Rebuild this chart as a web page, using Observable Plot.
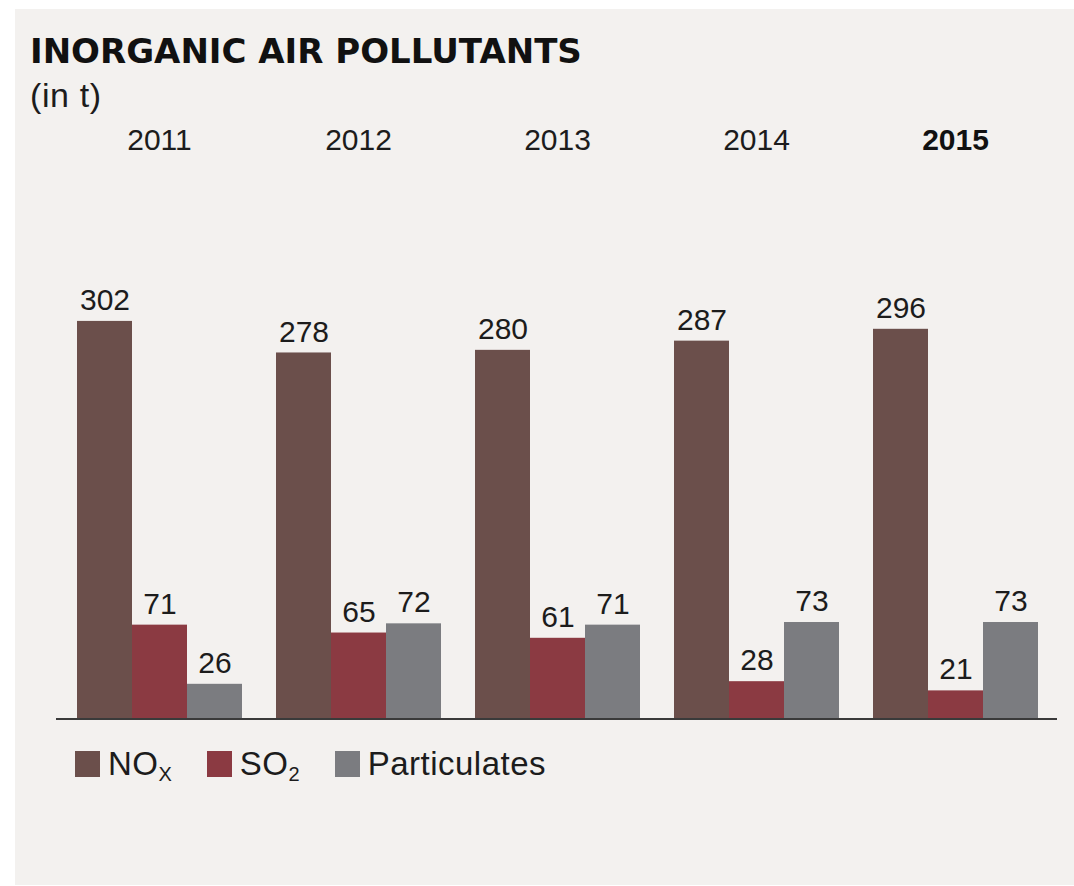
<!DOCTYPE html>
<html>
<head>
<meta charset="utf-8">
<script src="https://cdn.jsdelivr.net/npm/d3@7"></script>
<script src="https://cdn.jsdelivr.net/npm/@observablehq/plot@0.6"></script>
<style>
  html, body { margin: 0; padding: 0; background: #ffffff; }
  body { width: 1074px; height: 886px; position: relative; overflow: hidden; font-family: "Liberation Sans", Arial, sans-serif; color: #1c1c1c; }
  #panel { position: absolute; left: 15px; top: 9px; width: 1059px; height: 876px; background: #f3f1ef; }
  #title { position: absolute; left: 30px; top: 34px; font-family: "DejaVu Sans", sans-serif; font-size: 34px; line-height: 34px; font-weight: bold; letter-spacing: 0px; color: #111; white-space: nowrap; }
  #subtitle { position: absolute; left: 30px; top: 78px; font-size: 34px; line-height: 34px; letter-spacing: 0.6px; color: #1c1c1c; white-space: nowrap; }
  #chart { position: absolute; left: 0; top: 110px; }
  #legend { position: absolute; left: 75px; top: 745px; height: 38px; display: flex; align-items: center; gap: 35px; font-size: 33px; letter-spacing: 0.5px; color: #1c1c1c; }
  .item { display: flex; align-items: center; gap: 8px; white-space: nowrap; }
  .sw { width: 25px; height: 26px; display: inline-block; }
  sub { font-size: 20px; vertical-align: -6px; line-height: 0; letter-spacing: 0; }
</style>
</head>
<body>
<div id="panel"></div>
<div id="title">INORGANIC AIR POLLUTANTS</div>
<div id="subtitle">(in t)</div>
<div id="chart"></div>
<div id="legend"></div>
<script>
const years = ["2011", "2012", "2013", "2014", "2015"];
const series = ["NOx", "SO2", "Particulates"];
const nox = [302, 278, 280, 287, 296];
const so2 = [71, 65, 61, 28, 21];
const particulates = [26, 72, 71, 73, 73];
const highlightYear = "2015";
const colors = ["#6b4f4b", "#8b3a42", "#7b7c80"];
const legendLabels = ["NO<sub>X</sub>", "SO<sub>2</sub>", "Particulates"];

const rows = [];
years.forEach((y, i) => {
  rows.push({year: y, series: "NOx", value: nox[i]});
  rows.push({year: y, series: "SO2", value: so2[i]});
  rows.push({year: y, series: "Particulates", value: particulates[i]});
});

const chart = Plot.plot({
  width: 1074,
  height: 640,
  marginLeft: 75,
  marginRight: 35,
  marginTop: 15,
  marginBottom: 32,
  style: {background: "transparent", fontFamily: "'Liberation Sans', Arial, sans-serif", color: "#1c1c1c"},
  fx: {domain: years, paddingInner: 0.168, paddingOuter: 0, axis: null},
  x: {domain: series, padding: 0, axis: null},
  y: {domain: [0, 451], axis: null},
  color: {domain: series, range: colors},
  marks: [
    Plot.barY(rows, {fx: "year", x: "series", y: "value", fill: "series"}),
    Plot.ruleY([0], {stroke: "#3a3a3a", strokeWidth: 2, insetLeft: -20, insetRight: -19, shapeRendering: "crispEdges"}),
    Plot.text(rows, {fx: "year", x: "series", y: "value", text: d => String(d.value), lineAnchor: "middle", dy: -21, fontSize: 30, fill: "#1c1c1c"}),
    Plot.text(years.filter(y => y !== highlightYear), {fx: d => d, text: d => d, frameAnchor: "top", lineAnchor: "middle", dy: 15, fontSize: 30, fill: "#1c1c1c"}),
    Plot.text(years.filter(y => y === highlightYear), {fx: d => d, text: d => d, frameAnchor: "top", lineAnchor: "middle", dy: 15, fontSize: 30, fontWeight: "bold", fill: "#111"})
  ]
});
document.getElementById("chart").appendChild(chart);

const legend = document.getElementById("legend");
series.forEach((s, i) => {
  const item = document.createElement("div");
  item.className = "item";
  item.innerHTML = `<span class="sw" style="background:${colors[i]}"></span><span>${legendLabels[i]}</span>`;
  legend.appendChild(item);
});
</script>
</body>
</html>
